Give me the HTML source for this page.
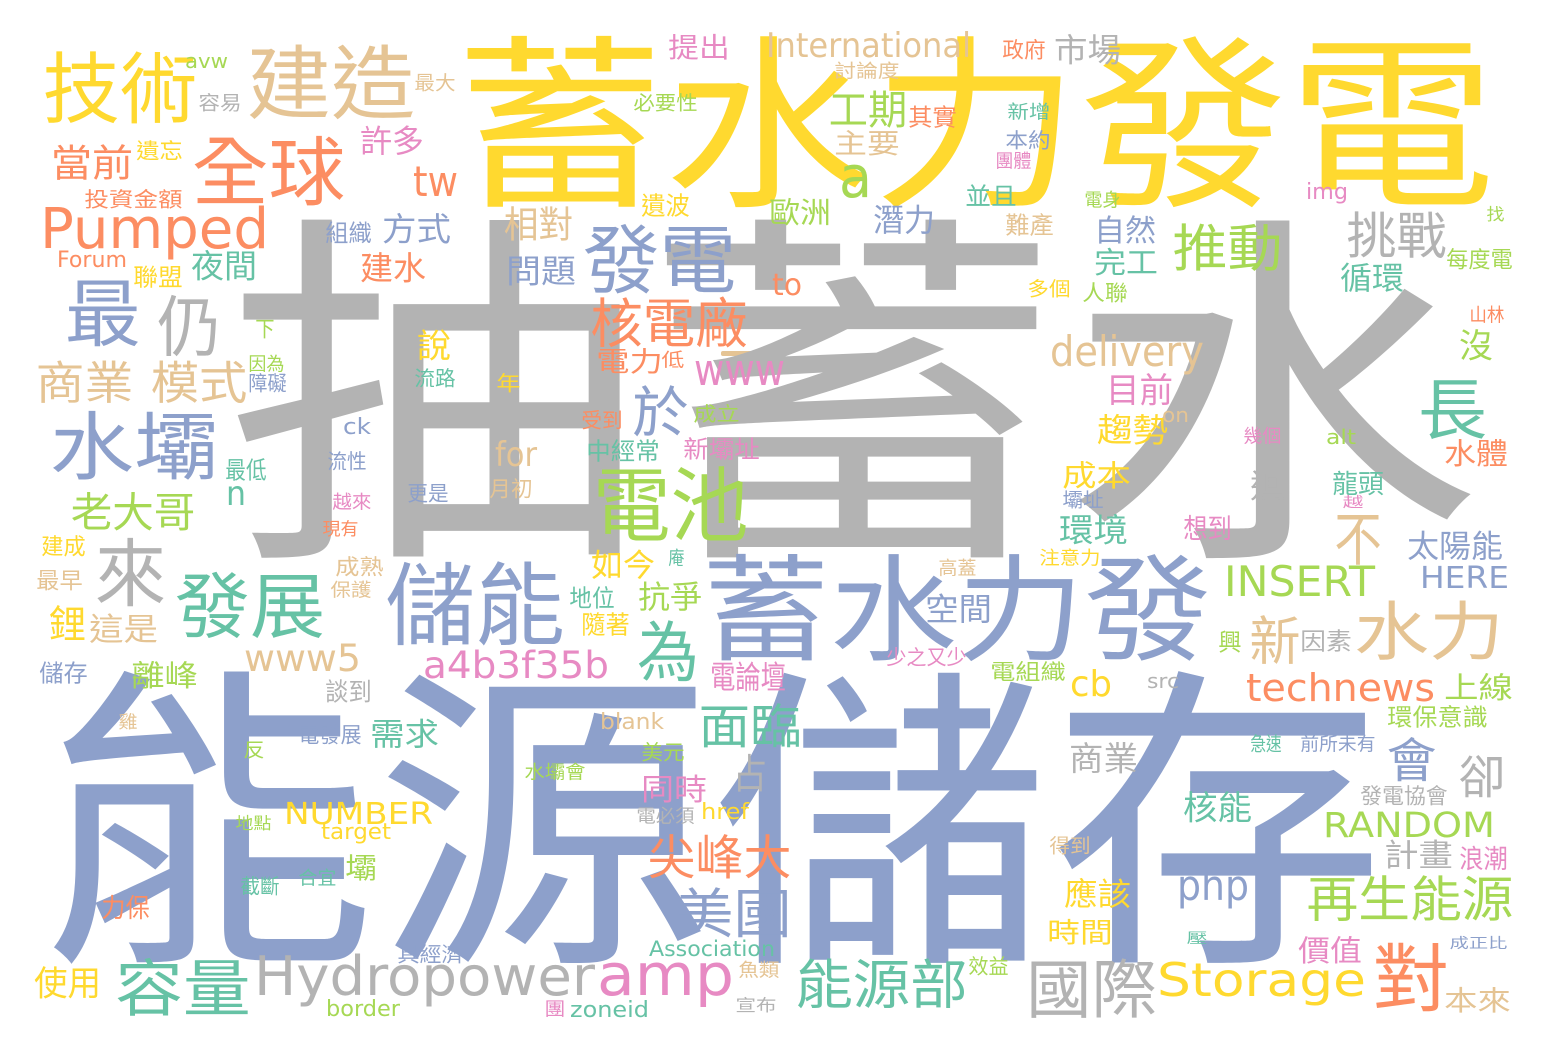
<!DOCTYPE html>
<html><head><meta charset="utf-8">
<style>
html,body{margin:0;padding:0;background:#fff;}
svg{display:block;}
</style></head>
<body>
<svg id="cloud" width="1548" height="1052" viewBox="0 0 1548 1052" xmlns="http://www.w3.org/2000/svg">
<rect x="0" y="0" width="1548" height="1052" fill="#ffffff"/>
<rect x="721" y="351" width="55" height="5" rx="2" fill="#e5c494"/>
</svg>
<script>
const palette = {G:'#b3b3b3',Y:'#ffd92f',B:'#8da0cb',Gr:'#66c2a5',O:'#fc8d62',P:'#e78ac3',L:'#a6d854',T:'#e5c494'};
// CJK words: text, color, inkLeft, inkTop, inkWidth, inkHeight
const cjkWords = [
['抽蓄水','G',237,216,1233,338],
['能源儲存','B',48,668,1328,292],
['蓄水力發電','Y',462,34,1028,171],
['蓄水力發','B',706,553,502,106],
['儲能','B',388,561,174,83],
['建造','T',249,44,164,74],
['技術','Y',45,51,150,71],
['全球','O',194,135,149,69],
['發電','B',585,223,149,69],
['電池','L',595,465,151,75],
['水壩','B',52,410,164,68],
['發展','Gr',177,571,146,66],
['容量','Gr',117,958,132,57],
['國際','G',1028,958,127,59],
['能源部','Gr',797,958,169,49],
['對','O',1375,942,72,68],
['水力','T',1356,600,146,59],
['推動','L',1174,223,107,47],
['挑戰','G',1348,211,97,46],
['長','Gr',1420,377,65,61],
['最','B',67,277,72,68],
['仍','G',159,294,60,61],
['來','G',97,537,67,68],
['為','Gr',639,620,58,60],
['核電廠','O',592,297,154,49],
['再生能源','L',1308,875,204,45],
['尖峰大','O',649,834,141,44],
['美國','B',677,887,113,49],
['面臨','Gr',700,703,100,44],
['商業','T',37,360,95,42],
['模式','T',152,360,94,42],
['當前','O',52,144,80,35],
['老大哥','L',72,492,122,38],
['新','T',1251,615,48,48],
['工期','L',830,90,76,37],
['會','B',1388,737,47,44],
['卻','G',1460,754,44,43],
['不','T',1336,510,44,54],
['目前','P',1107,373,65,32],
['於','B',634,385,53,51],
['許多','P',361,125,62,29],
['相對','T',505,206,67,34],
['方式','B',383,213,67,30],
['夜間','Gr',192,250,64,30],
['建水','O',361,252,64,30],
['問題','B',507,255,68,30],
['主要','T',835,130,64,25],
['市場','G',1055,34,65,30],
['提出','P',669,34,60,25],
['歐洲','L',770,198,60,27],
['潛力','B',874,204,60,29],
['自然','B',1095,215,60,28],
['完工','Gr',1095,248,62,27],
['循環','Gr',1341,262,62,29],
['趨勢','Y',1098,414,69,30],
['成本','Y',1063,461,67,27],
['環境','Gr',1060,514,67,30],
['太陽能','B',1408,530,94,29],
['空間','B',926,593,65,29],
['商業','G',1070,742,67,31],
['核能','Gr',1184,791,67,31],
['計畫','G',1385,839,67,29],
['應該','Y',1065,878,65,29],
['時間','Y',1048,919,64,25],
['價值','P',1299,936,62,27],
['使用','Y',35,966,65,32],
['如今','Y',592,549,62,29],
['抗爭','L',639,581,62,29],
['電力','O',597,348,65,25],
['水體','O',1445,439,62,27],
['上線','L',1445,673,67,27],
['需求','Gr',371,718,67,29],
['同時','P',642,774,64,28],
['離峰','L',132,661,65,27],
['這是','T',90,613,67,29],
['鋰','Y',50,605,35,35],
['電論壇','P',711,661,74,29],
['沒','L',1460,329,32,31],
['本來','T',1445,987,65,25],
['迴','G',1251,470,33,30],
['占','G',734,754,32,37],
['壩','L',346,854,30,26],
['說','Y',418,329,32,31],
['想到','P',1184,515,47,25],
['龍頭','Gr',1333,471,50,24],
['中經常','Gr',587,439,72,22],
['新壩址','P',684,437,75,22],
['環保意識','L',1388,705,99,22],
['投資金額','O',85,189,97,19],
['遺波','Y',642,193,47,23],
['遺忘','Y',137,140,45,20],
['聯盟','Y',134,265,48,22],
['組織','B',326,221,45,22],
['其實','O',909,105,47,22],
['並且','Gr',966,184,50,22],
['難產','T',1006,213,47,22],
['多個','Y',1028,279,42,18],
['人聯','L',1083,282,44,20],
['因素','G',1301,629,50,22],
['電組織','L',991,661,74,20],
['少之又少','P',887,647,79,19],
['發電協會','G',1361,785,86,20],
['前所未有','B',1301,735,74,17],
['急速','Gr',1251,734,30,18],
['浪潮','P',1460,846,47,24],
['得到','T',1050,836,40,18],
['效益','L',969,956,39,19],
['成正比','B',1450,936,57,13],
['談到','G',326,679,45,23],
['電發展','B',299,724,62,20],
['地位','Gr',570,586,44,22],
['隨著','Y',582,612,47,23],
['成熟','T',336,556,47,20],
['保護','T',331,581,40,17],
['建成','Y',42,535,43,21],
['最早','T',37,569,45,21],
['儲存','B',40,661,47,22],
['具經濟','B',398,944,65,19],
['力保','O',102,895,47,24],
['截斷','Gr',241,876,38,19],
['合宜','Gr',299,869,37,17],
['地點','L',236,815,35,15],
['水壩會','L',525,763,60,17],
['美元','L',642,742,42,19],
['電必須','G',637,807,57,17],
['魚類','T',739,961,40,17],
['宣布','G',736,997,40,15],
['團','P',545,1000,20,17],
['反','L',244,740,20,18],
['雞','T',119,713,18,16],
['庵','Gr',669,549,15,17],
['成立','L',694,404,45,18],
['受到','O',582,410,40,19],
['低','O',662,351,22,17],
['年','Y',497,373,23,19],
['流路','Gr',415,368,40,19],
['因為','L',249,355,35,17],
['障礙','B',249,373,37,19],
['下','L',256,318,18,20],
['最低','Gr',226,458,40,22],
['流性','B',328,451,38,19],
['月初','T',490,478,42,20],
['更是','B',408,483,40,19],
['越來','P',333,493,38,17],
['現有','O',323,520,35,16],
['容易','G',199,93,42,18],
['最大','T',415,73,40,18],
['必要性','L',634,93,63,18],
['討論度','T',835,62,64,17],
['政府','O',1003,39,42,20],
['新增','Gr',1008,103,42,17],
['本約','B',1006,130,44,19],
['團體','P',996,152,35,17],
['電身','L',1085,191,35,17],
['每度電','L',1447,248,65,21],
['找','L',1487,206,17,15],
['山林','O',1470,306,34,17],
['幾個','P',1244,427,37,17],
['壩址','B',1063,490,40,18],
['越','P',1343,495,20,13],
['注意力','Y',1040,549,60,17],
['高蓋','T',939,559,37,17],
['興','L',1219,630,22,22],
['壓','Gr',1187,931,20,13]
];
// Latin words: text, color, left, baseline, fontSize, width
const latinWords = [
['Pumped','O',40,248,56,229],
['Hydropower','G',254,995,54,341],
['Storage','Y',1157,996,46,209],
['amp','P',597,995,58,137],
['International','T',766,57,34,205],
['delivery','T',1050,366,42,154],
['technews','O',1246,701,38,189],
['INSERT','L',1224,596,42,151],
['RANDOM','L',1323,837,35,172],
['a4b3f35b','P',423,678,37,186],
['www5','T',244,671,37,117],
['www','P',694,385,44,91],
['HERE','B',1420,588,30,89],
['NUMBER','Y',284,824,30,149],
['php','B',1177,900,42,72],
['tw','O',413,196,42,45],
['a','L',839,197,58,33],
['cb','Y',1070,696,36,42],
['for','T',495,466,34,42],
['n','Gr',226,505,34,20],
['to','O',772,295,30,30],
['Forum','O',57,267,22,70],
['Association','Gr',649,956,21,126],
['avw','L',185,68,20,43],
['ck','B',343,434,22,28],
['img','P',1306,199,22,42],
['on','T',1162,422,20,27],
['alt','L',1326,444,20,30],
['src','G',1147,688,20,32],
['blank','T',600,729,22,64],
['href','Y',701,819,22,48],
['target','Y',321,839,22,70],
['border','L',326,1016,22,74],
['zoneid','Gr',570,1017,22,79]
];
const NS = 'http://www.w3.org/2000/svg';
const svg = document.getElementById('cloud');
cjkWords.forEach(function(w){
  const s = w[5] / 0.92;
  const t = document.createElementNS(NS, 'text');
  
  
  t.setAttribute('x', (w[2] - 0.03 * s).toFixed(1));
  t.setAttribute('y', (w[3] + 0.85 * s).toFixed(1));
  t.setAttribute('font-size', s.toFixed(1));
  t.setAttribute('fill', palette[w[1]]);
  t.setAttribute('font-family', '"Liberation Sans","Noto Sans CJK TC",sans-serif');
  t.setAttribute('textLength', (w[4] + 0.06 * s).toFixed(1));
  t.setAttribute('lengthAdjust', 'spacingAndGlyphs');
  t.textContent = w[0];
  svg.appendChild(t);
});
latinWords.forEach(function(w){
  const t = document.createElementNS(NS, 'text');
  
  
  t.setAttribute('x', w[2]);
  t.setAttribute('y', w[3]);
  t.setAttribute('font-size', w[4]);
  t.setAttribute('fill', palette[w[1]]);
  t.setAttribute('font-family', '"DejaVu Sans","Liberation Sans",sans-serif');
  t.setAttribute('textLength', w[5]);
  t.setAttribute('lengthAdjust', 'spacingAndGlyphs');
  t.textContent = w[0];
  svg.appendChild(t);
});
</script>
</body></html>
